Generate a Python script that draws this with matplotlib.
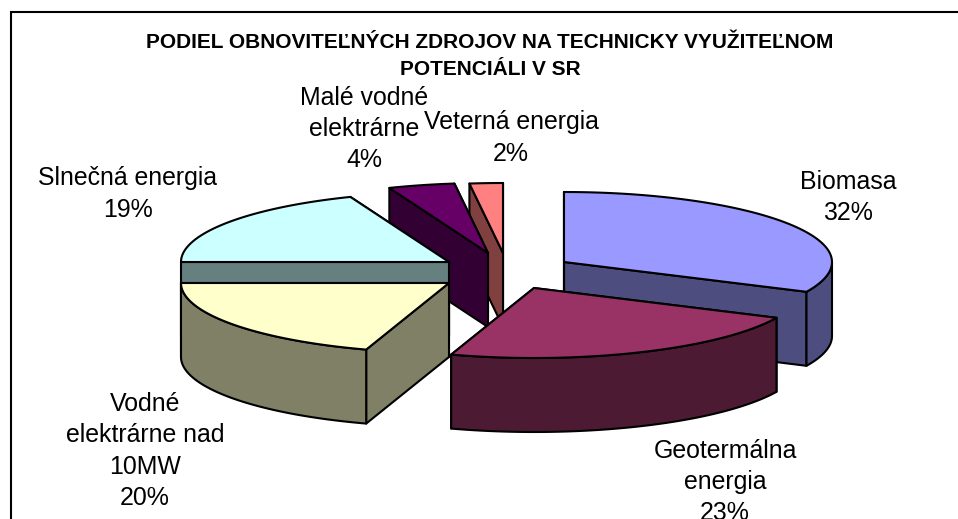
import numpy as np
import matplotlib
matplotlib.use("Agg")
from matplotlib import pyplot as plt
from matplotlib.patches import Polygon

plt.rcParams['font.family'] = ['Liberation Sans', 'DejaVu Sans']

nazvy = ["Biomasa", "Geotermálna\nenergia", "Vodné\nelektrárne nad\n10MW",
         "Slnečná energia", "Malé vodné\nelektrárne", "Veterná energia"]
podiely = [32, 23, 20, 19, 4, 2]
nadpis = "PODIEL OBNOVITEĽNÝCH ZDROJOV NA TECHNICKY VYUŽITEĽNOM\nPOTENCIÁLI V SR"

# farby hornej plochy, bočné steny sú polovične tmavé
farby = ["#9999FF", "#993366", "#FFFFCC", "#CCFFFF", "#660066", "#FF8080"]
# vrcholy vysunutých výsekov (pixely obrázka)
vrcholy = [(564, 262), (534, 288), (449, 283), (449, 262), (488, 253), (503, 253)]
popisy_xy = [(848, 197.5), (725, 482), (145, 451), (128, 194), (364, 129), (511, 138)]
# poradie kreslenia, zadné výseky najprv
poradie = [5, 4, 0, 3, 2, 1]

RX, RY, HLBKA = 268, 70, 74
CIARA = 1.5


def bod(stred, uhol):
    return (stred[0] + RX * np.sin(uhol), stred[1] - RY * np.cos(uhol))


def stena(body):
    spodok = [(x, y + HLBKA) for x, y in body]
    return list(body) + spodok[::-1]


fig = plt.figure(figsize=(9.58, 5.19), dpi=100)
ax = fig.add_axes([0, 0, 1, 1])
ax.set_xlim(0, 958)
ax.set_ylim(519, 0)
ax.axis("off")

# ram grafu, vpravo a dole je orezany
ax.plot([11, 11, 958], [519, 12, 12], color="black", lw=1.5, solid_joinstyle="miter")

hrany = np.cumsum([0] + podiely) / sum(podiely) * 2 * np.pi

for i in poradie:
    stred = vrcholy[i]
    zac, kon = hrany[i], hrany[i + 1]
    tmava = tuple(c * 0.5 for c in matplotlib.colors.to_rgb(farby[i]))
    uhly = np.linspace(zac, kon, 80)
    oblúk = [bod(stred, u) for u in uhly]

    # rezy výseku
    for u in (kon, zac):
        ax.add_patch(Polygon(stena([stred, bod(stred, u)]), fc=tmava, ec="black", lw=CIARA, joinstyle="round"))

    # vonkajšia stena, len predná polovica elipsy
    lo, hi = max(zac, np.pi / 2), min(kon, 3 * np.pi / 2)
    if lo < hi:
        predok = [bod(stred, u) for u in np.linspace(lo, hi, 80)]
        ax.add_patch(Polygon(stena(predok), fc=tmava, ec="black", lw=CIARA, joinstyle="round"))

    ax.add_patch(Polygon([stred] + oblúk, fc=farby[i], ec="black", lw=CIARA, joinstyle="round"))

for nazov, hodnota, (x, y) in zip(nazvy, podiely, popisy_xy):
    ax.text(x, y, f"{nazov}\n{hodnota}%", ha="center", va="center", fontsize=17.9, linespacing=1.39, color="black")

ax.text(490, 56, nadpis, ha="center", va="center", fontsize=15, fontweight="bold", linespacing=1.52, color="black")

fig.savefig("out.png", dpi=100)
